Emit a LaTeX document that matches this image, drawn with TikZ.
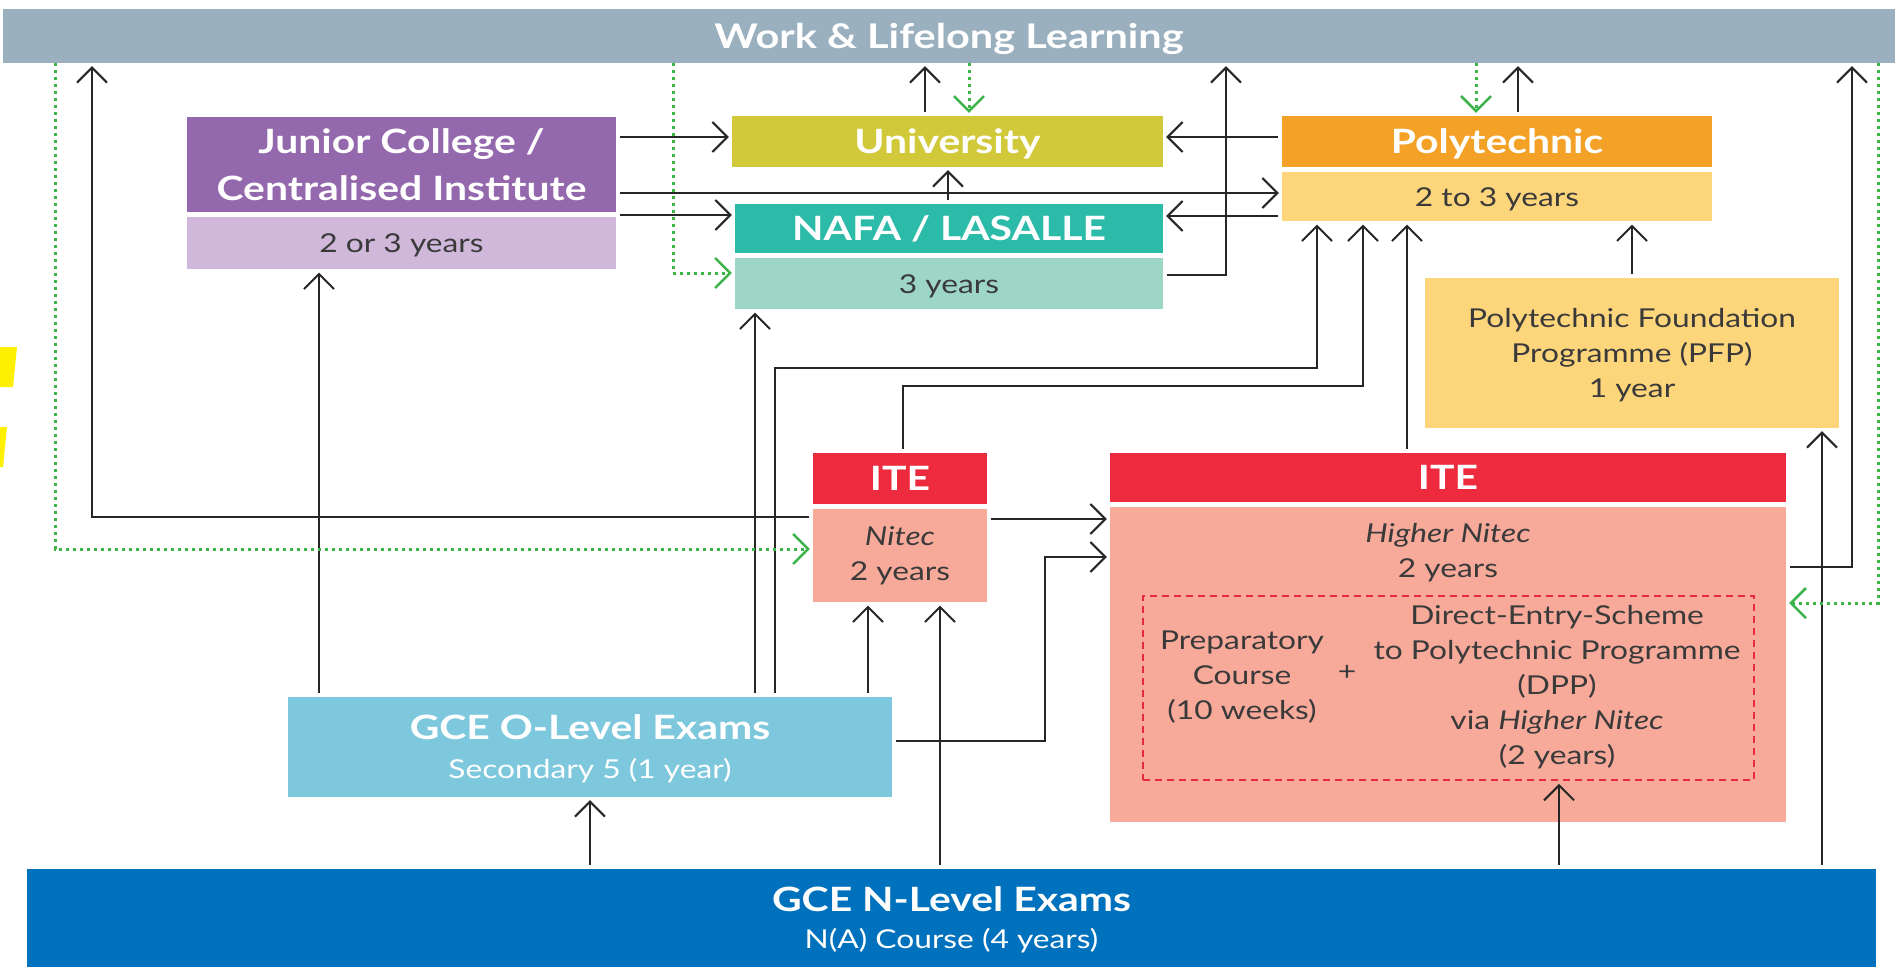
\documentclass[tikz,border=0pt]{standalone}
\usepackage{fontspec}
\setmainfont{Lato}[FakeStretch=1.22]
\usetikzlibrary{positioning, arrows.meta}
\definecolor{workgray}{HTML}{9BB0BF}
\definecolor{jcpurple}{HTML}{9468AD}
\definecolor{jclilac}{HTML}{D0B8DA}
\definecolor{unigreen}{HTML}{D1C93A}
\definecolor{nafateal}{HTML}{2CBBA9}
\definecolor{nafamint}{HTML}{9DD6C6}
\definecolor{polyorange}{HTML}{F4A127}
\definecolor{polyyellow}{HTML}{FDD67C}
\definecolor{itered}{HTML}{EE2A3E}
\definecolor{itesalmon}{HTML}{F7AA9A}
\definecolor{olevelblue}{HTML}{7EC8DE}
\definecolor{nlevelblue}{HTML}{0071BC}
\definecolor{dotgreen}{HTML}{3CB44A}
\definecolor{dashred}{HTML}{E52B3C}
\definecolor{textgray}{HTML}{3A3A3A}
\definecolor{markyellow}{HTML}{FFEF00}
\newcommand{\titlefont}{\fontsize{33.5}{47}\selectfont\bfseries}
\newcommand{\bodyfont}{\fontsize{26}{35}\selectfont}
\tikzstyle{bar} = [rectangle, fill=workgray, text=white, inner sep=0pt, font=\fontsize{34}{40}\selectfont\bfseries]
\tikzstyle{head} = [rectangle, text=white, inner sep=0pt, align=center, font=\titlefont]
\tikzstyle{sub} = [rectangle, text=textgray, inner sep=0pt, align=center, font=\bodyfont]
\tikzstyle{plain} = [text=textgray, inner sep=0pt, align=center, font=\bodyfont]
\tikzstyle{nodepth} = [text depth=0pt]
\tikzstyle{arrow} = [line width=2pt, draw=black!85, ->, >={Straight Barb[length=15pt,width=30pt,line width=2pt]}, shorten <=4pt, shorten >=3pt]
\tikzstyle{dotarrow} = [line width=3pt, draw=dotgreen, dash pattern=on 3pt off 4pt, ->, >={Straight Barb[length=15pt,width=30pt,line width=2.5pt]}, shorten >=3pt]

\begin{document}
\begin{tikzpicture}[x=1pt, y=-1pt]
    \useasboundingbox (0,0) rectangle (1895,967);
    \fill[markyellow] (0,347) -- (17,347) -- (13,387) -- (0,387) -- cycle;
    \fill[markyellow] (0,427) -- (7,427) -- (3,467) -- (0,467) -- cycle;
    % boxes
    \node(work)[bar, nodepth, minimum width=1892pt, minimum height=54pt] at (949,36) {Work \& Lifelong Learning};
    \node(jc)[head, fill=jcpurple, minimum width=429pt, minimum height=95pt] at (401.5,164.5) {Junior College /\\Centralised Institute};
    \node(jcsub)[sub, nodepth, fill=jclilac, minimum width=429pt, minimum height=52pt, below=5pt of jc] {2 or 3 years};
    \node(uni)[head, nodepth, fill=unigreen, minimum width=431pt, minimum height=51pt] at (947.5,141.5) {University};
    \node(nafa)[head, nodepth, fill=nafateal, minimum width=428pt, minimum height=49pt] at (949,228.5) {NAFA / LASALLE};
    \node(nafasub)[sub, nodepth, fill=nafamint, minimum width=428pt, minimum height=51pt, below=5pt of nafa] {3 years};
    \node(poly)[head, nodepth, fill=polyorange, minimum width=430pt, minimum height=51pt] at (1497,141.5) {Polytechnic};
    \node(polysub)[sub, nodepth, fill=polyyellow, minimum width=430pt, minimum height=49pt, below=5pt of poly] {2 to 3 years};
    \node(pfp)[sub, nodepth, fill=polyyellow, minimum width=414pt, minimum height=150pt] at (1632,353) {Polytechnic Foundation\\Programme (PFP)\\1 year};
    \node(itea)[head, fill=itered, minimum width=174pt, minimum height=51pt] at (900,478.5) {ITE};
    \node(iteasub)[sub, fill=itesalmon, minimum width=174pt, minimum height=93pt, below=5pt of itea] {\textit{Nitec}\\2 years};
    \node(iteb)[head, fill=itered, minimum width=676pt, minimum height=49pt] at (1448,477.5) {ITE};
    \node(itebsub)[sub, fill=itesalmon, minimum width=676pt, minimum height=315pt, below=5pt of iteb] {};
    \node(hnitec)[plain] at (1448,553) {\textit{Higher Nitec}\\2 years};
    \node(dpp)[draw=dashred, line width=1.8pt, dash pattern=on 7pt off 5pt, minimum width=611pt, minimum height=184pt] at (1448.5,688) {};
    \node(prep)[plain] at (1242,677) {Preparatory\\Course\\(10 weeks)};
    \node(plus)[plain] at (1347,673) {+};
    \node(dps)[plain] at (1557,687) {Direct-Entry-Scheme\\to Polytechnic Programme\\(DPP)\\via \textit{Higher Nitec}\\(2 years)};
    \node(olevel)[head, nodepth, fill=olevelblue, minimum width=604pt, minimum height=100pt] at (590,747) {GCE O-Level Exams\\[-8pt]{\bodyfont\mdseries Secondary 5 (1 year)}};
    \node(nlevel)[head, nodepth, fill=nlevelblue, minimum width=1849pt, minimum height=98pt] at (951.5,918) {GCE N-Level Exams\\[-10pt]{\bodyfont\mdseries N(A) Course (4 years)}};
    \coordinate (bendO) at (1317,368);
    \coordinate (bendN) at (1363,386);
    \coordinate (bendL) at (1045,557);
    % black arrows
    \draw [arrow] (jc.east |- 0,137) -- (uni.west |- 0,137);
    \draw [arrow] (jc.east |- 0,193) -- (polysub.west |- 0,193);
    \draw [arrow] (jc.east |- 0,215) -- (nafa.west |- 0,215);
    \draw [arrow] (poly.west |- 0,137) -- (uni.east |- 0,137);
    \draw [arrow] (polysub.west |- 0,216) -- (nafa.east |- 0,216);
    \draw [arrow] (nafa.north -| 948,0) -- (uni.south -| 948,0);
    \draw [arrow] (uni.north -| 925,0) -- (work.south -| 925,0);
    \draw [arrow] (nafasub.east |- 0,275) -| (work.south -| 1226,0);
    \draw [arrow] (poly.north -| 1518,0) -- (work.south -| 1518,0);
    \draw [arrow] (itebsub.east |- 0,567) -| (work.south -| 1852,0);
    \draw [arrow] (iteasub.west |- 0,517) -| (work.south -| 92,0);
    \draw [arrow] (olevel.north -| 319,0) -- (jcsub.south -| 319,0);
    \draw [arrow] (olevel.north -| 755,0) -- (nafasub.south -| 755,0);
    \draw [arrow] (olevel.north -| 775,0) |- (bendO) -- (polysub.south -| bendO);
    \draw [arrow] (itea.north -| 903,0) |- (bendN) -- (polysub.south -| bendN);
    \draw [arrow] (iteb.north -| 1407,0) -- (polysub.south -| 1407,0);
    \draw [arrow] (pfp.north) -- (polysub.south -| pfp.north);
    \draw [arrow] (olevel.north -| 868,0) -- (iteasub.south -| 868,0);
    \draw [arrow] (nlevel.north -| 940,0) -- (iteasub.south -| 940,0);
    \draw [arrow] (nlevel.north -| olevel.south) -- (olevel.south);
    \draw [arrow] (nlevel.north -| 1559,0) -- (dpp.south -| 1559,0);
    \draw [arrow] (nlevel.north -| 1822,0) -- (pfp.south -| 1822,0);
    \draw [arrow] (iteasub.east |- 0,519) -- (itebsub.west |- 0,519);
    \draw [arrow] (olevel.east |- 0,741) -| (bendL) -- (itebsub.west |- bendL);
    % green dotted
    \draw [dotarrow] (work.south -| 969,0) -- (uni.north -| 969,0);
    \draw [dotarrow] (work.south -| 1476,0) -- (poly.north -| 1476,0);
    \draw [dotarrow] (work.south -| 673,0) |- (nafasub.west |- 0,273);
    \draw [dotarrow] (work.south -| 55,0) |- (iteasub.west |- 0,549);
    \draw [dotarrow] (work.south -| 1878,0) |- (itebsub.east |- 0,603);
\end{tikzpicture}
\end{document}
